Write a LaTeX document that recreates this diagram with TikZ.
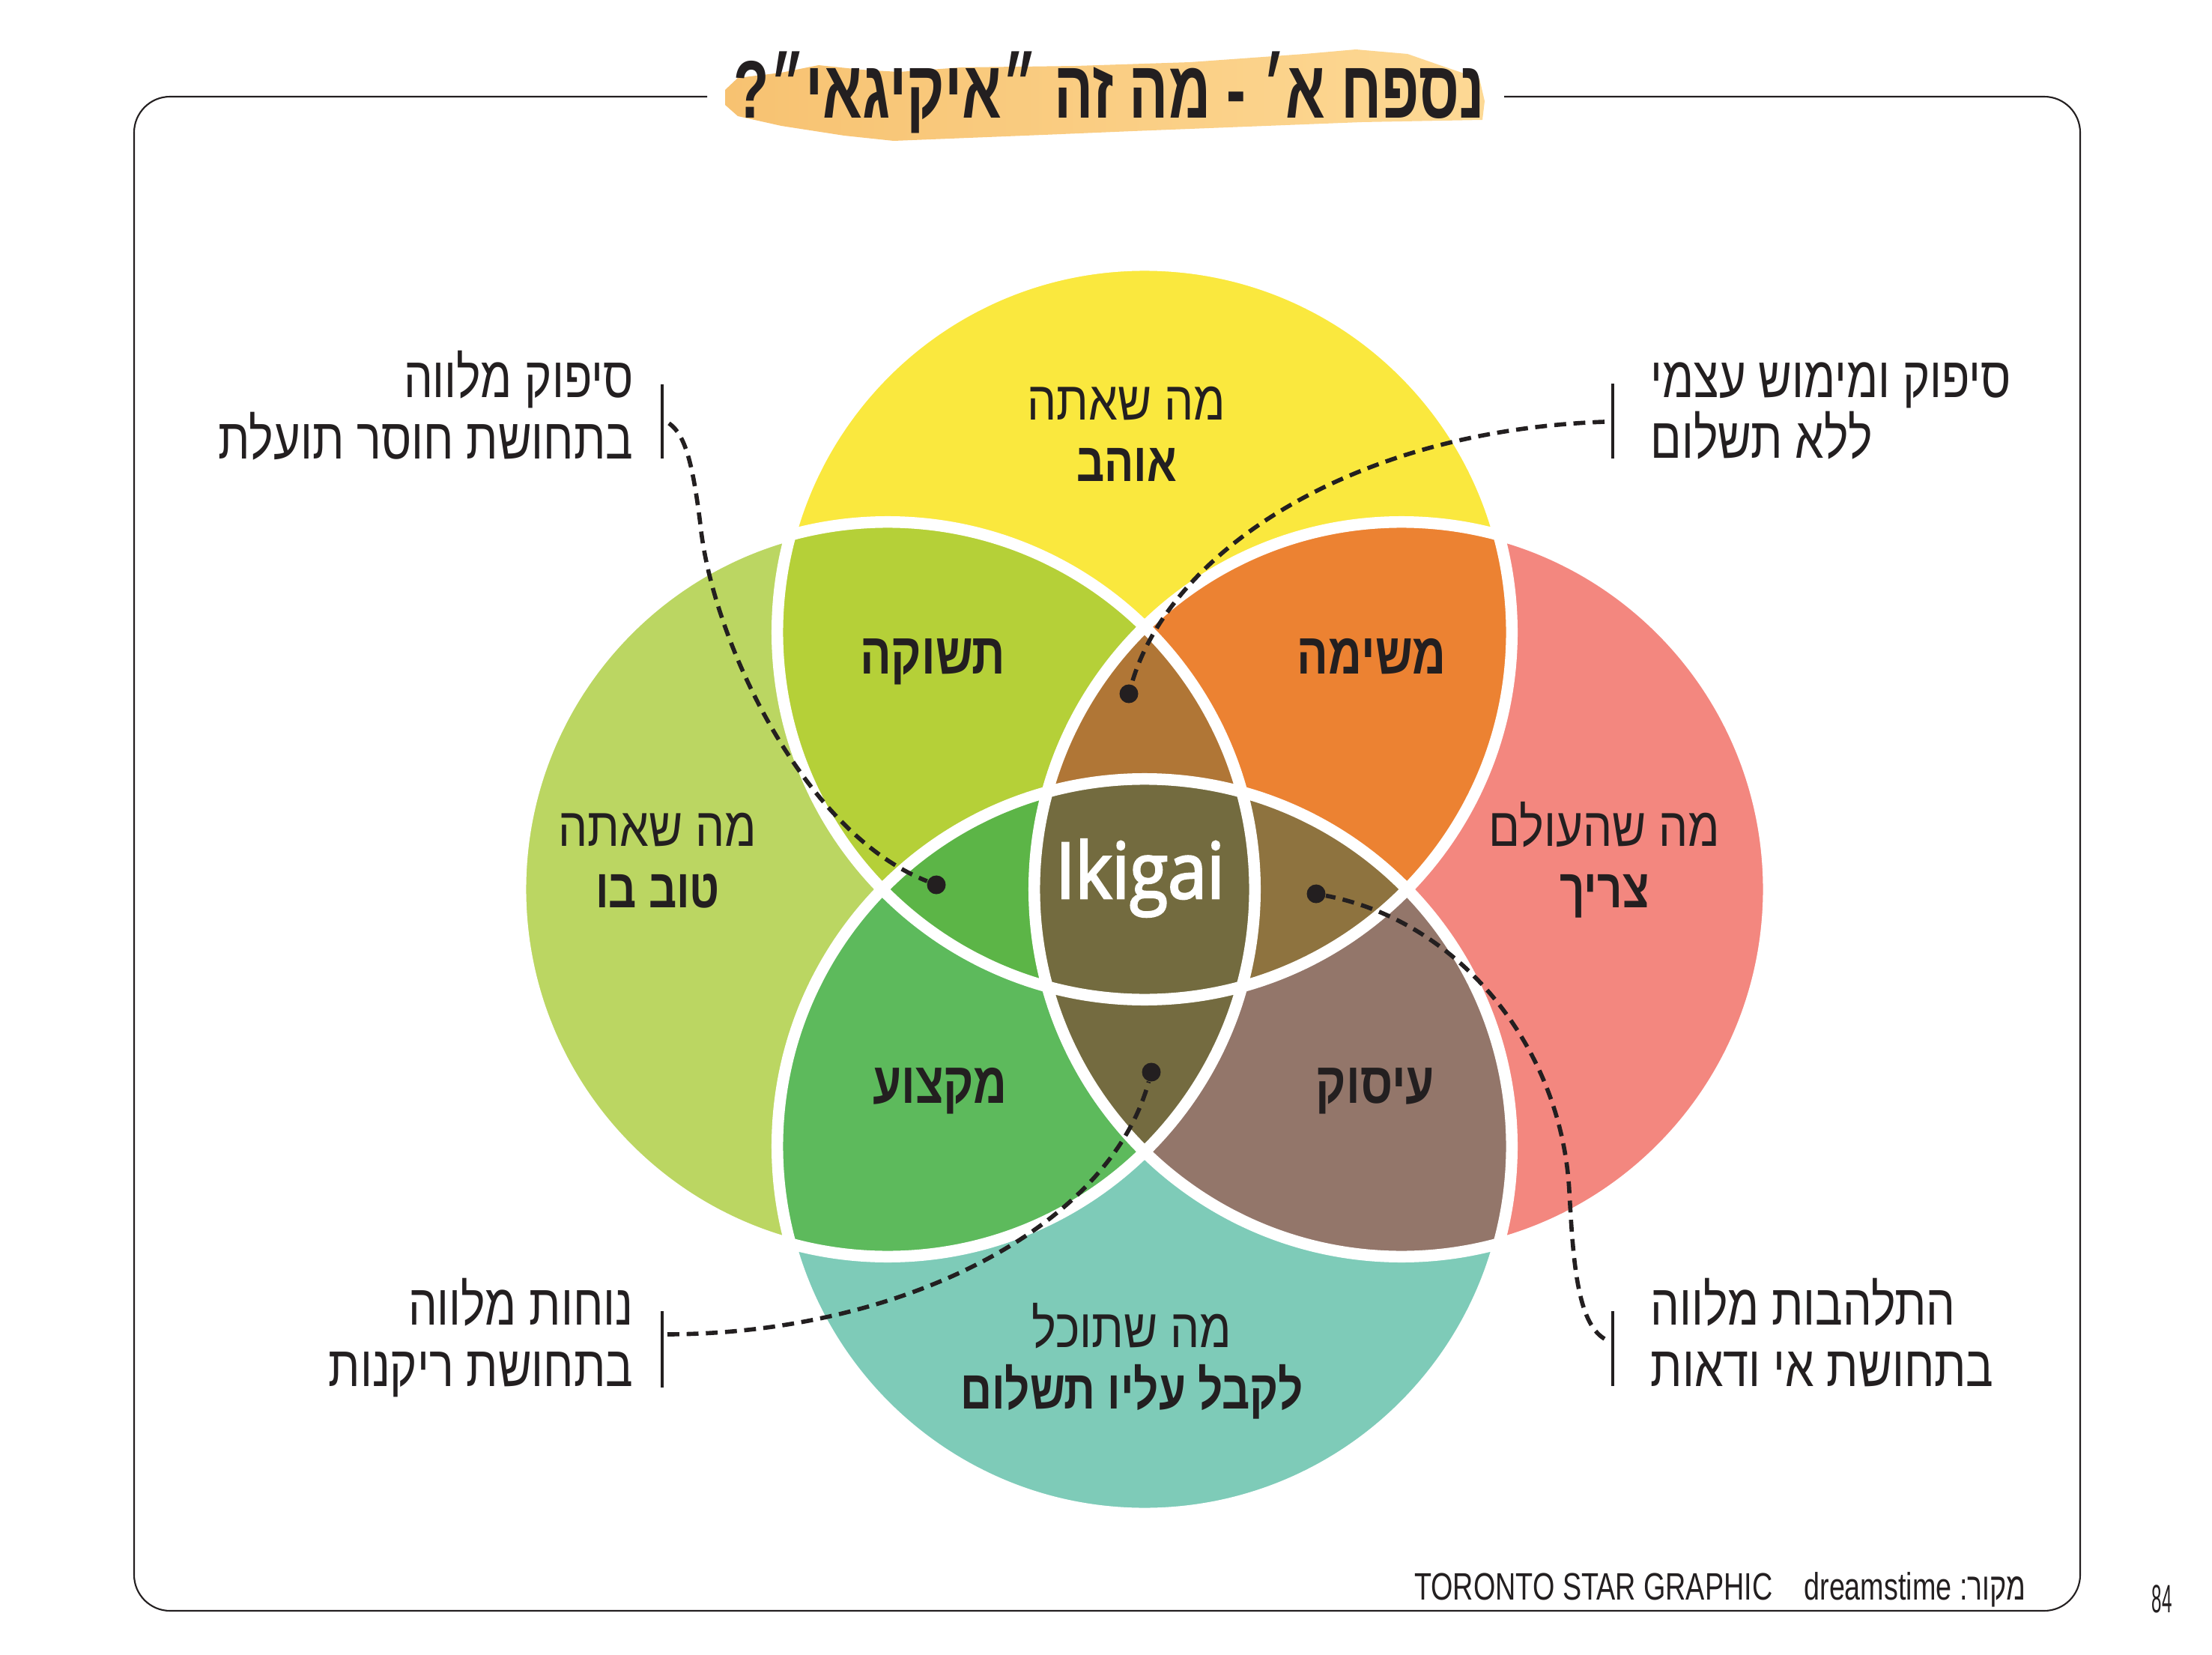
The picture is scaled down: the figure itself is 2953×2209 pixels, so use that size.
\documentclass[tikz,border=0pt]{standalone}
\usepackage{fontspec}
\TeXXeTstate=1
\newfontfamily\hebfont[Script=Hebrew,FakeStretch=0.8]{Liberation Sans}
\newfontfamily\hebC[Script=Hebrew,FakeStretch=0.85]{Liberation Sans}
\newfontfamily\hebB[Script=Hebrew,FakeStretch=0.8]{Liberation Sans}
\newfontfamily\titlefont[Script=Hebrew,FakeStretch=0.71]{Liberation Sans}
\newfontfamily\footfont[FakeStretch=0.74]{Liberation Sans}
\newfontfamily\hebfoot[Script=Hebrew,FakeStretch=0.74]{Liberation Sans}
\newfontfamily\ikifont[FakeBold=2.6,FakeStretch=0.9]{Open Sans}
\newcommand{\hb}[1]{\beginR #1\endR}
\definecolor{ink}{HTML}{231F20}
\definecolor{cY}{HTML}{FAE83E}
\definecolor{cL}{HTML}{BBD662}
\definecolor{cR}{HTML}{F3877F}
\definecolor{cB}{HTML}{7ECBB8}
\definecolor{cYL}{HTML}{B5D038}
\definecolor{cYR}{HTML}{EC8232}
\definecolor{cLB}{HTML}{5DBA5C}
\definecolor{cRB}{HTML}{93766A}
\definecolor{cYLR}{HTML}{B07636}
\definecolor{cYLB}{HTML}{5CB547}
\definecolor{cYRB}{HTML}{8E733F}
\definecolor{cLRB}{HTML}{746B40}
\definecolor{cAll}{HTML}{736B3F}
\definecolor{brushL}{HTML}{F7C271}
\definecolor{brushR}{HTML}{FDD995}
\tikzset{
  frame/.style={draw=ink, line width=0.6pt, rounded corners=0.48cm},
  lbl/.style={font=\hebfont\fontsize{21.8}{26}\selectfont, text=ink, inner sep=0pt},
  clbl/.style={font=\hebC\fontsize{20.7}{24}\selectfont, text=ink, inner sep=0pt, anchor=base},
  cbold/.style={font=\hebB\bfseries\fontsize{20.7}{24}\selectfont, text=ink, inner sep=0pt, anchor=base},
  kbold/.style={font=\hebB\bfseries\fontsize{22}{26}\selectfont, text=ink, inner sep=0pt, anchor=base},
  titletxt/.style={font=\titlefont\bfseries\fontsize{31}{36}\selectfont, text=ink, inner sep=0pt, anchor=base},
  bar/.style={draw=ink, line width=1.4pt},
  conn/.style={draw=ink, line width=1.6pt, dash pattern=on 4.5pt off 2.8pt},
  dot/.style={circle, fill=ink, inner sep=0pt, minimum size=0.25cm},
  ring/.style={draw=white, line width=4.4pt},
}
\begin{document}
\begin{tikzpicture}[x=0.01cm,y=-0.01cm]
\useasboundingbox (0,0) rectangle (2953,2209);
\fill[white] (0,0) rectangle (2953,2209);

% frame
\draw[frame] (944,129) -- (179,129) -- (179,2150) -- (2777,2150) -- (2777,129) -- (2008,129);

% title brush
\shade[left color=brushL, right color=brushR]
  (968,120) -- (985,104) -- (1043,97) -- (1093,87) -- (1150,93) -- (1200,96) -- (1283,90)
  -- (1436,88) -- (1589,83) -- (1742,72) -- (1810,66) -- (1879,72) -- (1925,88) -- (1975,105)
  -- (1982,135) -- (1979,160) -- (1818,163) -- (1665,169) -- (1512,175) -- (1393,180)
  -- (1293,184) -- (1193,188) -- (1127,181) -- (1043,168) -- (985,155) -- (968,140) -- cycle;
\node[titletxt] (title) at (1481,158) {\hb{נספח א׳ - מה זה ״איקיגאי״?}};

% circles
\coordinate (oY) at (1528,844);
\coordinate (oL) at (1185,1187);
\coordinate (oR) at (1871,1187);
\coordinate (oB) at (1528,1530);
\def\RR{4.9cm}
\fill[cY] (oY) circle[radius=\RR];
\fill[cL] (oL) circle[radius=\RR];
\fill[cR] (oR) circle[radius=\RR];
\fill[cB] (oB) circle[radius=\RR];
\begin{scope}\clip (oY) circle[radius=\RR]; \fill[cYL] (oL) circle[radius=\RR]; \end{scope}
\begin{scope}\clip (oY) circle[radius=\RR]; \fill[cYR] (oR) circle[radius=\RR]; \end{scope}
\begin{scope}\clip (oL) circle[radius=\RR]; \fill[cLB] (oB) circle[radius=\RR]; \end{scope}
\begin{scope}\clip (oR) circle[radius=\RR]; \fill[cRB] (oB) circle[radius=\RR]; \end{scope}
\begin{scope}\clip (oY) circle[radius=\RR]; \clip (oL) circle[radius=\RR]; \fill[cYLR] (oR) circle[radius=\RR]; \end{scope}
\begin{scope}\clip (oY) circle[radius=\RR]; \clip (oL) circle[radius=\RR]; \fill[cYLB] (oB) circle[radius=\RR]; \end{scope}
\begin{scope}\clip (oY) circle[radius=\RR]; \clip (oR) circle[radius=\RR]; \fill[cYRB] (oB) circle[radius=\RR]; \end{scope}
\begin{scope}\clip (oL) circle[radius=\RR]; \clip (oR) circle[radius=\RR]; \fill[cLRB] (oB) circle[radius=\RR]; \end{scope}
\begin{scope}\clip (oY) circle[radius=\RR]; \clip (oL) circle[radius=\RR]; \clip (oR) circle[radius=\RR]; \fill[cAll] (oB) circle[radius=\RR]; \end{scope}
\draw[ring] (oY) circle[radius=\RR];
\draw[ring] (oL) circle[radius=\RR];
\draw[ring] (oR) circle[radius=\RR];
\draw[ring] (oB) circle[radius=\RR];

% circle labels
\node[clbl] (y1) at (1504,560) {\hb{מה שאתה}};
\node[cbold] (y2) at (1504,642) {\hb{אוהב}};
\node[clbl] (l1) at (878,1129) {\hb{מה שאתה}};
\node[cbold] (l2) at (878,1211) {\hb{טוב בו}};
\node[clbl] (r1) at (2142,1129) {\hb{מה שהעולם}};
\node[cbold] (r2) at (2142,1211) {\hb{צריך}};
\node[clbl] (b1) at (1511,1798) {\hb{מה שתוכל}};
\node[cbold] (b2) at (1511,1880) {\hb{לקבל עליו תשלום}};
\node[kbold] (k1) at (1245,899) {\hb{תשוקה}};
\node[kbold] (k2) at (1831,899) {\hb{משימה}};
\node[kbold] (k3) at (1255,1472) {\hb{מקצוע}};
\node[kbold] (k4) at (1836,1472) {\hb{עיסוק}};
\node[font=\ikifont\fontsize{29.5}{32}\selectfont, text=white, inner sep=0pt, anchor=base] (iki) at (1522,1199) {Ikigai};

% side labels
\node[lbl, anchor=base east] (tl1) at (846,530) {\hb{סיפוק מלווה}};
\node[lbl, anchor=base east] (tl2) at (846,612) {\hb{בתחושת חוסר תועלת}};
\node[lbl, anchor=base west] (tr1) at (2203,530) {\hb{סיפוק ומימוש עצמי}};
\node[lbl, anchor=base west] (tr2) at (2203,611) {\hb{ללא תשלום}};
\node[lbl, anchor=base east] (bl1) at (846,1768) {\hb{נוחות מלווה}};
\node[lbl, anchor=base east] (bl2) at (846,1850) {\hb{בתחושת ריקנות}};
\node[lbl, anchor=base west] (br1) at (2203,1768) {\hb{התלהבות מלווה}};
\node[lbl, anchor=base west] (br2) at (2203,1850) {\hb{בתחושת אי ודאות}};

% bars
\draw[bar] (884,513) -- (884,612);
\draw[bar] (2153,512) -- (2153,612);
\draw[bar] (884,1750) -- (884,1852);
\draw[bar] (2153,1750) -- (2153,1850);

% dots
\node[dot] (dT) at (1507,926) {};
\node[dot] (dL) at (1250,1181) {};
\node[dot] (dR) at (1757,1193) {};
\node[dot] (dB) at (1537,1431) {};

% connectors
\coordinate (sTL) at (893,565);
\coordinate (sTR) at (2142,563);
\coordinate (sBL) at (891,1781);
\coordinate (sBR) at (2142,1787);
\draw[conn] (sTL) .. controls (915,580) and (925,620) .. (935,700) .. controls (950,850) and (1070,1110) .. (dL);
\draw[conn] (sTR) .. controls (1800,575) and (1560,740) .. (dT);
\draw[conn] (sBL) .. controls (1200,1780) and (1480,1640) .. (dB);
\draw[conn] (sBR) .. controls (2105,1765) and (2100,1680) .. (2095,1590) .. controls (2085,1400) and (1950,1230) .. (dR);

% footer
\node[inner sep=0pt, anchor=base east, text=ink] (foot) at (2705,2135)
  {{\footfont\fontsize{14.5}{17}\selectfont TORONTO STAR GRAPHIC\hspace{12pt}dreamstime :}{\hebfoot\fontsize{14.5}{17}\selectfont\hb{מקור}}};
\node[inner sep=0pt, anchor=base, text=ink, font=\footfont\fontsize{15}{17}\selectfont] (page) at (2886,2152) {\scalebox{0.62}[1]{84}};
\end{tikzpicture}
\end{document}
